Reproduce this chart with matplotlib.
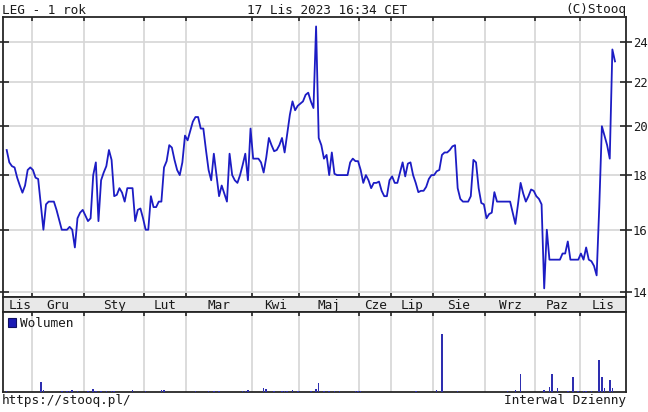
import matplotlib
matplotlib.use("Agg")
import matplotlib.pyplot as plt
from matplotlib.patches import Patch
import numpy as np

# ---------------- data ----------------
month_labels = ["Lis", "Gru", "Sty", "Lut", "Mar", "Kwi", "Maj", "Cze", "Lip", "Sie", "Wrz", "Paz", "Lis"]

p_lis22 = [19.0, 18.5, 18.35, 18.3, 17.9, 17.6, 17.33, 17.6, 18.2, 18.3]
p_gru = [18.2, 17.9, 17.85, 16.9, 16.0, 16.9, 17.0, 17.0, 17.0, 16.7,
         16.35, 16.0, 16.0, 16.0, 16.1, 16.0, 15.4, 16.4, 16.6, 16.7]
p_sty = [16.5, 16.3, 16.4, 18.0, 18.5, 16.3, 17.8, 18.1, 18.35, 19.0,
         18.6, 17.2, 17.25, 17.5, 17.33, 17.0, 17.5, 17.5, 17.5, 16.3,
         16.7, 16.75, 16.4]
p_lut = [16.0, 16.0, 17.2, 16.8, 16.8, 17.0, 17.0, 18.3, 18.55, 19.2,
         19.1, 18.6, 18.2, 18.0, 18.5, 19.6]
p_mar = [19.4, 19.8, 20.2, 20.4, 20.4, 19.9, 19.9, 19.0, 18.2, 17.8,
         18.85, 18.0, 17.2, 17.6, 17.3, 17.0, 18.85, 18.0, 17.8, 17.7,
         18.0, 18.4, 18.85, 17.8, 19.9]
p_kwi = [18.65, 18.65, 18.65, 18.5, 18.1, 18.7, 19.5, 19.2, 18.95, 19.0,
         19.2, 19.5, 18.9, 19.7, 20.5, 21.1, 20.7, 20.9]
p_maj = [21.0, 21.1, 21.4, 21.5, 21.1, 20.8, 24.8, 19.5, 19.2, 18.65,
         18.8, 18.0, 18.9, 18.05, 18.0, 18.0, 18.0, 18.0, 18.0, 18.5,
         18.65, 18.55, 18.55]
p_cze = [18.2, 17.7, 18.0, 17.8, 17.5, 17.7, 17.7, 17.75, 17.4, 17.2, 17.2, 17.8]
p_lip = [17.95, 17.7, 17.7, 18.1, 18.5, 17.95, 18.45, 18.5, 18.0, 17.7,
         17.35, 17.4, 17.4, 17.55, 17.85, 18.0]
p_sie = [18.0, 18.15, 18.2, 18.8, 18.9, 18.9, 19.0, 19.15, 19.2, 17.5,
         17.1, 17.0, 17.0, 17.0, 17.2, 18.6, 18.5, 17.5, 16.95, 16.9]
p_wrz = [16.4, 16.55, 16.6, 17.35, 17.0, 17.0, 17.0, 17.0, 17.0, 17.0,
         16.6, 16.2, 16.9, 17.7, 17.3, 17.0, 17.2, 17.45, 17.4]
p_paz = [17.2, 17.1, 16.9, 14.1, 16.0, 15.0, 15.0, 15.0, 15.0, 15.0,
         15.2, 15.2, 15.6, 15.0, 15.0, 15.0, 15.0]
p_lis23 = [15.2, 15.0, 15.4, 15.0, 14.95, 14.8, 14.5, 16.8, 20.0, 19.6,
           19.2, 18.65, 23.6, 23.0]

monthly_prices = [p_lis22, p_gru, p_sty, p_lut, p_mar, p_kwi, p_maj,
                  p_cze, p_lip, p_sie, p_wrz, p_paz, p_lis23]

# volume (session index, shares)
vol_index = [0, 13, 14, 21, 23, 24, 25, 27, 31, 33, 34, 36, 38, 40, 41, 48, 53,
             59, 60, 72, 77, 79, 81, 90, 91, 92, 98, 99, 102, 105, 106, 107, 109,
             111, 116, 118, 119, 121, 123, 125, 127, 133, 134, 135, 156, 164, 166,
             172, 191, 194, 196, 205, 207, 208, 210, 214, 216, 218, 220, 221, 223,
             226, 227, 228, 230, 231]
vol_value = [1000, 10000, 2000, 1000, 1000, 1000, 1500, 1000, 1000, 3000, 1000,
             1000, 1000, 1000, 1000, 1500, 1000, 1500, 1500, 1000, 1000, 1000,
             1000, 1000, 1000, 1500, 4000, 3000, 1000, 1000, 1000, 1000, 1500,
             1000, 1000, 2500, 9000, 1000, 1000, 1000, 1000, 1000, 1000, 1000,
             1000, 2000, 58000, 1000, 1000, 2000, 18000, 1500, 5000, 18000, 4000,
             1000, 15000, 1000, 1000, 1000, 1000, 32000, 15000, 4000, 12000, 4000]

y_ticks = [14, 16, 18, 20, 22, 24]

title_left = "LEG - 1 rok"
title_mid = "17 Lis 2023 16:34 CET"
title_right = "(C)Stooq"
footer_left = "https://stooq.pl/"
footer_right = "Interwal Dzienny"

# ---------------- derived ----------------
prices = np.concatenate([np.array(m, dtype=float) for m in monthly_prices])
N = len(prices)
x = np.arange(N)
lengths = [len(m) for m in monthly_prices]
starts = np.cumsum([0] + lengths[:-1])
bounds = starts[1:] - 0.5
xlim = (-1.41, N - 1 + 4.2)
seg_left = np.concatenate([[0.5], bounds])
seg_right = np.concatenate([bounds, [xlim[1]]])
centers = (seg_left + seg_right) / 2

# ---------------- style ----------------
FONT = "DejaVu Sans Mono"
FS = 9.2
TXT = "#1a1a1a"
GRID = "#d6d6d6"
SPINE = "#262626"
LINE = "#1c1cc4"
VOL = "#2e2eb0"

W, H = 648, 412
fig = plt.figure(figsize=(W / 100, H / 100), dpi=100)
fig.patch.set_facecolor("white")


def ax_px(l, t, r, b):
    return fig.add_axes([l / W, 1 - b / H, (r - l) / W, (b - t) / H])


ax = ax_px(3, 17, 626, 297)
axs = ax_px(3, 297, 626, 312)
axv = ax_px(3, 312, 626, 392)

for a in (ax, axs, axv):
    for s in a.spines.values():
        s.set_color(SPINE)
        s.set_linewidth(1.3)
    a.set_xlim(*xlim)

# main price panel
ax.set_yscale("log")
ax.set_ylim(13.84, 25.31)
for b in bounds:
    ax.axvline(b, color=GRID, lw=1.2, zorder=0)
for yt in y_ticks:
    ax.axhline(yt, color=GRID, lw=1.2, zorder=0)
ax.plot(x, prices, color=LINE, lw=1.3, zorder=3)
ax.yaxis.set_major_locator(matplotlib.ticker.FixedLocator(y_ticks))
ax.yaxis.set_minor_locator(matplotlib.ticker.NullLocator())
ax.yaxis.set_major_formatter(matplotlib.ticker.FixedFormatter([str(v) for v in y_ticks]))
ax.yaxis.tick_right()
ax.tick_params(axis="y", which="major", left=True, right=True, direction="inout",
               length=8, width=1.2, color=SPINE, labelright=True, labelleft=False,
               pad=1, labelsize=8.8, labelcolor=TXT)
for lab in ax.get_yticklabels():
    lab.set_family(FONT)
ax.set_xticks(bounds)
ax.tick_params(axis="x", top=True, bottom=True, direction="in", length=3,
               width=1.2, color=SPINE, labelbottom=False, labeltop=False)

# month strip
axs.set_facecolor("#e8e8e8")
axs.set_ylim(0, 1)
axs.set_xticks([])
axs.set_yticks([])
for c, lab in zip(centers, month_labels):
    axs.text(c, 0.45, lab, ha="center", va="center", fontsize=FS,
             family=FONT, color=TXT)

# volume panel
vmax = max(vol_value)
axv.set_ylim(0, vmax * 80 / 58.5)
for b in bounds:
    axv.axvline(b, color=GRID, lw=1.2, zorder=0)
axv.bar(vol_index, vol_value, width=0.6, color=VOL, linewidth=0, zorder=3)
axv.set_xticks(bounds)
axv.set_yticks([])
axv.tick_params(axis="x", top=True, bottom=False, direction="in", length=3,
                width=1.2, color=SPINE, labelbottom=False)
leg = axv.legend(handles=[Patch(facecolor="#1a1ab4", edgecolor="#101060", lw=0.8)],
                 labels=["Wolumen"], loc="upper left", frameon=False,
                 handlelength=0.6, handleheight=0.7, handletextpad=0.35,
                 borderaxespad=0.15, borderpad=0.25,
                 prop={"family": FONT, "size": FS})
for t in leg.get_texts():
    t.set_color(TXT)

# header / footer text
fig.text(2 / W, 1 - 13.5 / H, title_left, ha="left", va="baseline",
         family=FONT, fontsize=FS, color=TXT)
fig.text(327 / W, 1 - 13.5 / H, title_mid, ha="center", va="baseline",
         family=FONT, fontsize=FS, color=TXT)
fig.text(626 / W, 1 - 13.5 / H, title_right, ha="right", va="baseline",
         family=FONT, fontsize=FS, color=TXT)
fig.text(2 / W, 1 - 404 / H, footer_left, ha="left", va="baseline",
         family=FONT, fontsize=FS, color=TXT)
fig.text(626 / W, 1 - 404 / H, footer_right, ha="right", va="baseline",
         family=FONT, fontsize=FS, color=TXT)

fig.savefig("out.png", dpi=100, facecolor="white")
